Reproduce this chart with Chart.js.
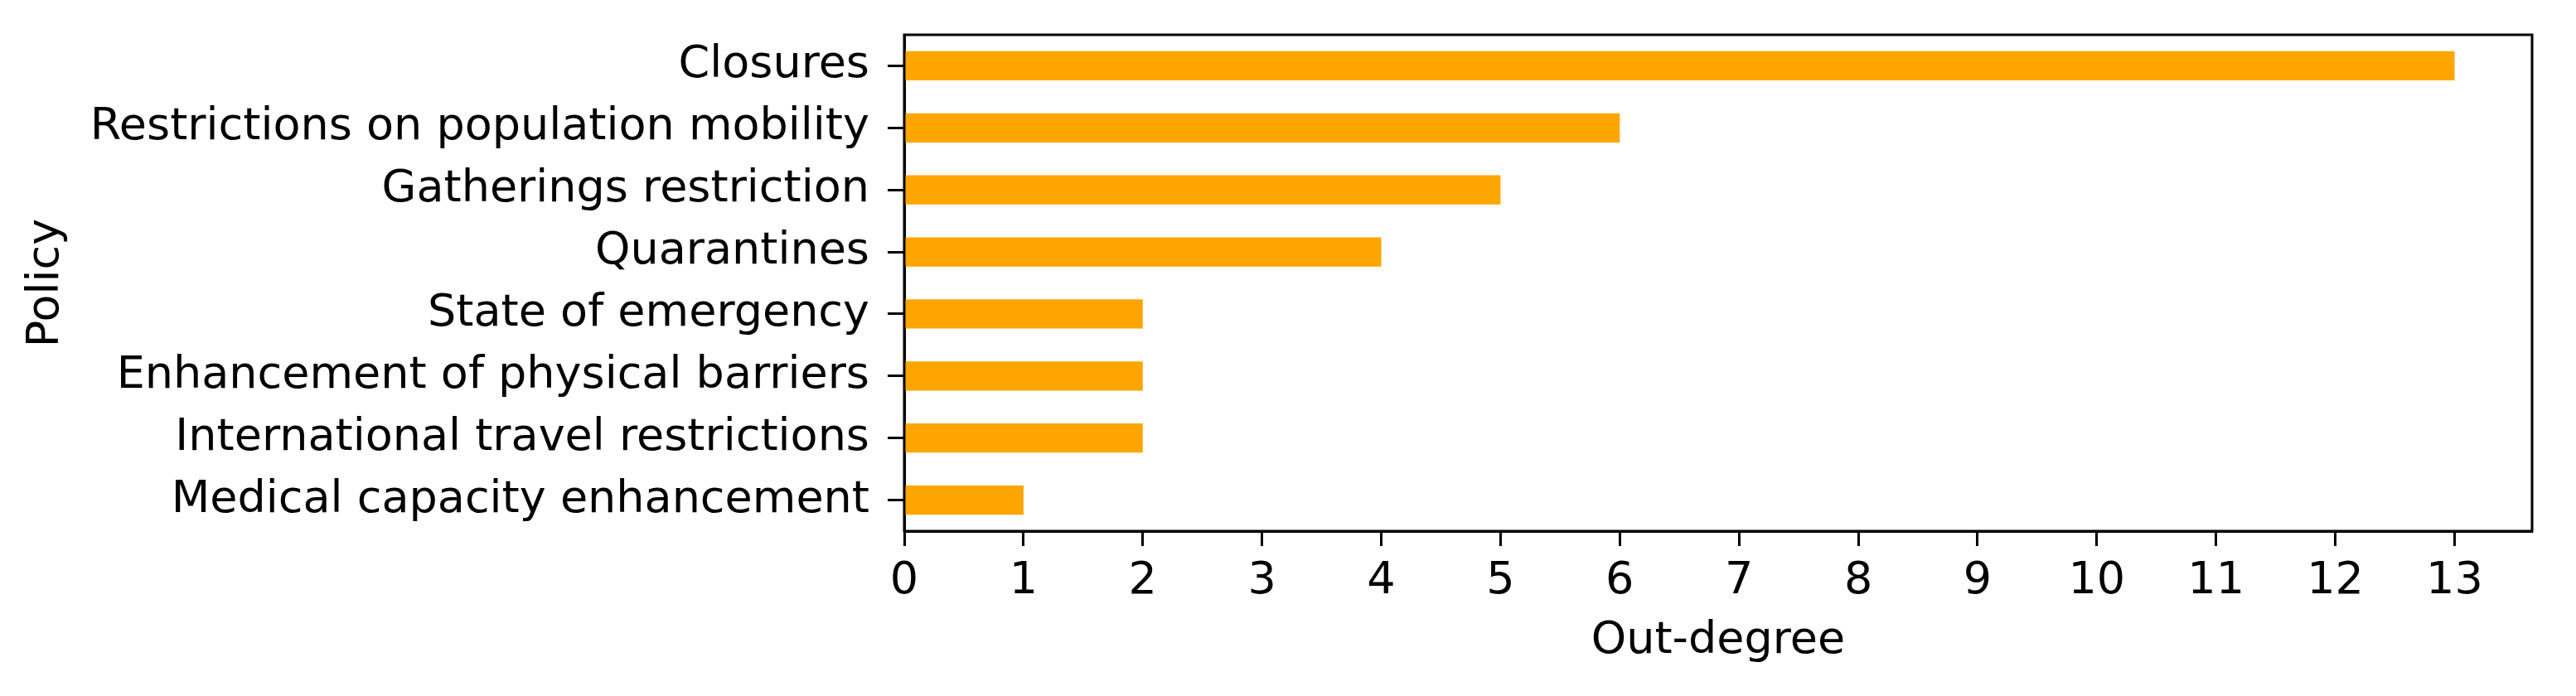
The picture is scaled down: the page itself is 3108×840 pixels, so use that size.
<!DOCTYPE html>
<html>
<head>
<meta charset="utf-8">
<script src="https://cdn.jsdelivr.net/npm/chart.js@4.4.1/dist/chart.umd.min.js"></script>
<style>
    body { margin: 0; background: #fff; }
    #wrap { width: 3108px; height: 840px; }
</style>
</head>
<body>
<div id="wrap"><canvas id="policyChart" width="3108" height="840"></canvas></div>
<script>
// Chart data
const policies = [
    'Closures',
    'Restrictions on population mobility',
    'Gatherings restriction',
    'Quarantines',
    'State of emergency',
    'Enhancement of physical barriers',
    'International travel restrictions',
    'Medical capacity enhancement'
];
const outDegree = [13, 6, 5, 4, 2, 2, 2, 1];
const xTicks = [0, 1, 2, 3, 4, 5, 6, 7, 8, 9, 10, 11, 12, 13];

const font = { family: '"DejaVu Sans", sans-serif', size: 54 };

// Draw the full frame around the plot area
const frame = {
    id: 'frame',
    afterDraw(chart) {
        const { ctx, chartArea: a } = chart;
        ctx.save();
        ctx.strokeStyle = '#000';
        ctx.lineWidth = 3;
        ctx.strokeRect(a.left, a.top, a.right - a.left, a.bottom - a.top);
        ctx.restore();
    }
};

const ctx = document.getElementById('policyChart').getContext('2d');
new Chart(ctx, {
    type: 'bar',
    data: {
        labels: policies,
        datasets: [{
            data: outDegree,
            backgroundColor: '#FFA500',
            barPercentage: 0.47,
            categoryPercentage: 1
        }]
    },
    options: {
        indexAxis: 'y',
        responsive: false,
        animation: false,
        layout: { padding: { top: 42, right: 53, left: 0, bottom: 0 } },
        plugins: {
            legend: { display: false },
            tooltip: { enabled: false }
        },
        scales: {
            x: {
                type: 'linear',
                min: 0,
                max: 13.65,
                afterBuildTicks: axis => {
                    axis.ticks = xTicks.map(v => ({ value: v }));
                },
                afterFit: scale => {
                    scale.height = 199;
                    scale.paddingLeft = 0;
                    scale.paddingRight = 0;
                },
                grid: {
                    drawOnChartArea: false,
                    tickLength: 18,
                    tickColor: '#000',
                    tickWidth: 3
                },
                border: { color: '#000', width: 3 },
                ticks: { color: '#000', font: font, padding: 11, maxRotation: 0 },
                title: {
                    display: true,
                    text: 'Out-degree',
                    color: '#000',
                    font: font,
                    padding: { top: 4, bottom: 34 }
                }
            },
            y: {
                afterFit: scale => {
                    scale.width = 1091;
                    scale.paddingTop = 0;
                    scale.paddingBottom = 0;
                },
                grid: {
                    offset: false,
                    drawOnChartArea: false,
                    tickLength: 20,
                    tickColor: '#000',
                    tickWidth: 3
                },
                border: { color: '#000', width: 3 },
                ticks: { color: '#000', font: font, padding: 22 },
                title: {
                    display: true,
                    text: 'Policy',
                    color: '#000',
                    font: font,
                    padding: { top: 24, bottom: 0 }
                }
            }
        }
    },
    plugins: [frame]
});
</script>
</body>
</html>
